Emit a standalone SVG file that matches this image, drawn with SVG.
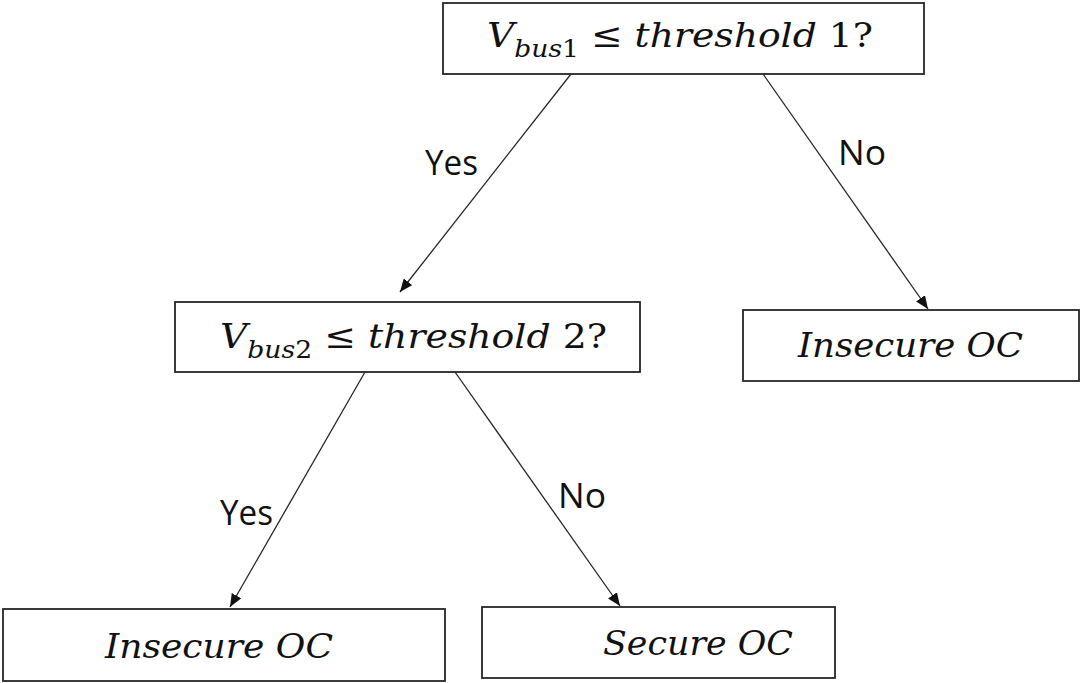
<svg xmlns="http://www.w3.org/2000/svg" width="1083" height="683" viewBox="0 0 1083 683">
  <style>
    .box { fill: #ffffff; stroke: #262626; stroke-width: 1.8; }
    .edge { stroke: #262626; stroke-width: 1.3; fill: none; marker-end: url(#arrow); }
    .math { font-family: "DejaVu Serif", "Liberation Serif", serif; font-style: italic; font-size: 34px; fill: #111; }
    .sub { font-size: 24px; }
    .up { font-style: normal; }
    .lbl { font-family: "Open Sans", "Liberation Sans", sans-serif; font-size: 35px; fill: #111; }
  </style>
  <defs>
    <marker id="arrow" viewBox="0 0 12 10" refX="12" refY="5" markerWidth="13" markerHeight="11" markerUnits="userSpaceOnUse" orient="auto">
      <path d="M0,0 L12,5 L0,10 z" fill="#111"/>
    </marker>
  </defs>
  <rect width="1083" height="683" fill="#ffffff"/>

  <g id="connectors">
    <line class="edge" x1="571" y1="74" x2="400" y2="292"/>
    <line class="edge" x1="763" y1="74" x2="928" y2="309"/>
    <line class="edge" x1="365" y1="372" x2="230" y2="607"/>
    <line class="edge" x1="455" y1="372" x2="620" y2="606"/>
    <text class="lbl" x="425" y="175" textLength="53" lengthAdjust="spacingAndGlyphs">Yes</text>
    <text class="lbl" x="838" y="165" textLength="48" lengthAdjust="spacingAndGlyphs">No</text>
    <text class="lbl" x="220" y="525" textLength="53" lengthAdjust="spacingAndGlyphs">Yes</text>
    <text class="lbl" x="558" y="508" textLength="48" lengthAdjust="spacingAndGlyphs">No</text>
  </g>

  <g id="q1">
    <rect class="box" x="443" y="3" width="481" height="71"/>
    <text class="math" x="487" y="47" textLength="386" lengthAdjust="spacingAndGlyphs">V<tspan class="sub" dy="10">bus<tspan class="up">1</tspan></tspan><tspan dy="-10" class="up"> ≤ </tspan>threshold <tspan class="up">1?</tspan></text>
  </g>

  <g id="q2">
    <rect class="box" x="175" y="302" width="465" height="70"/>
    <text class="math" x="220" y="348" textLength="387" lengthAdjust="spacingAndGlyphs">V<tspan class="sub" dy="10">bus<tspan class="up">2</tspan></tspan><tspan dy="-10" class="up"> ≤ </tspan>threshold <tspan class="up">2?</tspan></text>
  </g>

  <g id="insecure-right">
    <rect class="box" x="743" y="310" width="336" height="71"/>
    <text class="math" x="798" y="357" textLength="225" lengthAdjust="spacingAndGlyphs">Insecure OC</text>
  </g>

  <g id="insecure-left">
    <rect class="box" x="3" y="609" width="442" height="72"/>
    <text class="math" x="105" y="658" textLength="228" lengthAdjust="spacingAndGlyphs">Insecure OC</text>
  </g>

  <g id="secure">
    <rect class="box" x="482" y="607" width="353" height="71"/>
    <text class="math" x="603" y="655" textLength="190" lengthAdjust="spacingAndGlyphs">Secure OC</text>
  </g>
</svg>
